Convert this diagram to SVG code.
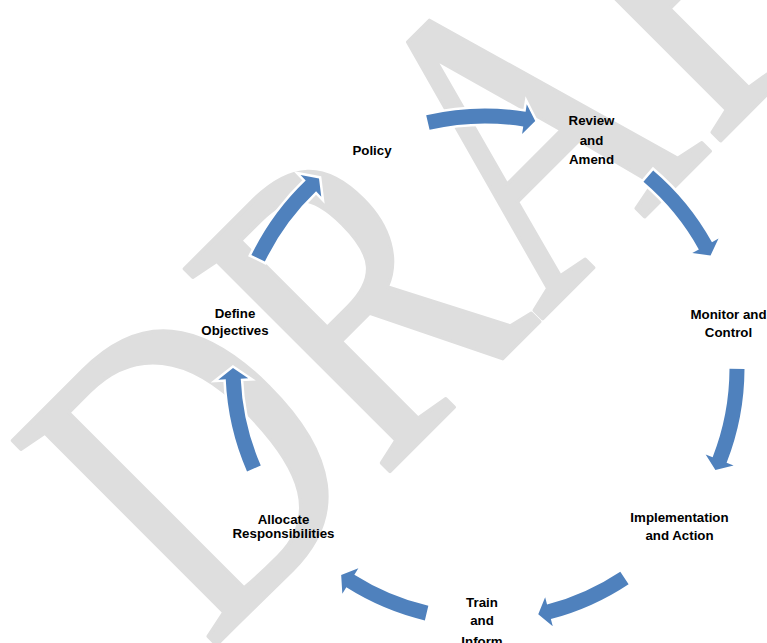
<svg xmlns="http://www.w3.org/2000/svg" width="767" height="643" viewBox="0 0 767 643">
<style>
.lbl{font-family:"Liberation Sans",Arial,sans-serif;font-weight:bold;font-size:13.3px;fill:#000;text-anchor:middle}
.arr{fill:#4f81bd;stroke:#fff;stroke-width:5;paint-order:stroke;stroke-linejoin:miter}
.wm{font-family:"Liberation Serif","Times New Roman",serif;font-size:440px;fill:#dedede;stroke:#dedede;stroke-width:4;stroke-linejoin:round}
</style>
<rect width="767" height="643" fill="#fff"/>
<text class="wm" transform="translate(209.4 651.6) rotate(-45) scale(0.765 1)">DRAFT</text>
<g id="connectors">
<g transform="translate(485 368) rotate(-78.5)"><path class="arr" d="M235.95,-108.02 A259.5,259.5 0 0 1 259.25,-11.32 L266.75,-11.65 L252,0 L236.77,-10.34 L244.27,-10.67 A244.5,244.5 0 0 0 222.31,-101.78 Z"/></g>
<g transform="translate(485 368) rotate(-26.5)"><path class="arr" d="M238.69,-101.81 A259.5,259.5 0 0 1 259.25,-11.32 L266.75,-11.65 L252,0 L236.77,-10.34 L244.27,-10.67 A244.5,244.5 0 0 0 224.90,-95.93 Z"/></g>
<g transform="translate(485 368) rotate(23.9)"><path class="arr" d="M237.61,-104.31 A259.5,259.5 0 0 1 259.25,-11.32 L266.75,-11.65 L252,0 L236.77,-10.34 L244.27,-10.67 A244.5,244.5 0 0 0 223.88,-98.28 Z"/></g>
<g transform="translate(485 368) rotate(77.8)"><path class="arr" d="M241.61,-94.69 A259.5,259.5 0 0 1 259.25,-11.32 L266.75,-11.65 L252,0 L236.77,-10.34 L244.27,-10.67 A244.5,244.5 0 0 0 227.64,-89.21 Z"/></g>
<g transform="translate(485 368) rotate(124.8)"><path class="arr" d="M241.61,-94.69 A259.5,259.5 0 0 1 259.25,-11.32 L266.75,-11.65 L252,0 L236.77,-10.34 L244.27,-10.67 A244.5,244.5 0 0 0 227.64,-89.21 Z"/></g>
<g transform="translate(485 368) rotate(180)"><path class="arr" d="M237.98,-103.48 A259.5,259.5 0 0 1 259.25,-11.32 L266.75,-11.65 L252,0 L236.77,-10.34 L244.27,-10.67 A244.5,244.5 0 0 0 224.22,-97.49 Z"/></g>
<g transform="translate(485 368) rotate(228.8)"><path class="arr" d="M238.87,-101.39 A259.5,259.5 0 0 1 259.25,-11.32 L266.75,-11.65 L252,0 L236.77,-10.34 L244.27,-10.67 A244.5,244.5 0 0 0 225.06,-95.53 Z"/></g>
</g>
<g id="policy"><text class="lbl" x="372" y="155">Policy</text></g>
<g id="review"><text class="lbl" x="591.5" y="125">Review</text><text class="lbl" x="591.5" y="145">and</text><text class="lbl" x="591.5" y="164">Amend</text></g>
<g id="monitor"><text class="lbl" x="728.5" y="319">Monitor and</text><text class="lbl" x="728.5" y="337">Control</text></g>
<g id="implementation"><text class="lbl" x="679.5" y="522">Implementation</text><text class="lbl" x="679.5" y="540">and Action</text></g>
<g id="train"><text class="lbl" x="482" y="607">Train</text><text class="lbl" x="482" y="625">and</text><text class="lbl" x="482" y="646">Inform</text></g>
<g id="allocate"><text class="lbl" x="283.5" y="524">Allocate</text><text class="lbl" x="283.5" y="538">Responsibilities</text></g>
<g id="define"><text class="lbl" x="235" y="318">Define</text><text class="lbl" x="235" y="335">Objectives</text></g>
</svg>
